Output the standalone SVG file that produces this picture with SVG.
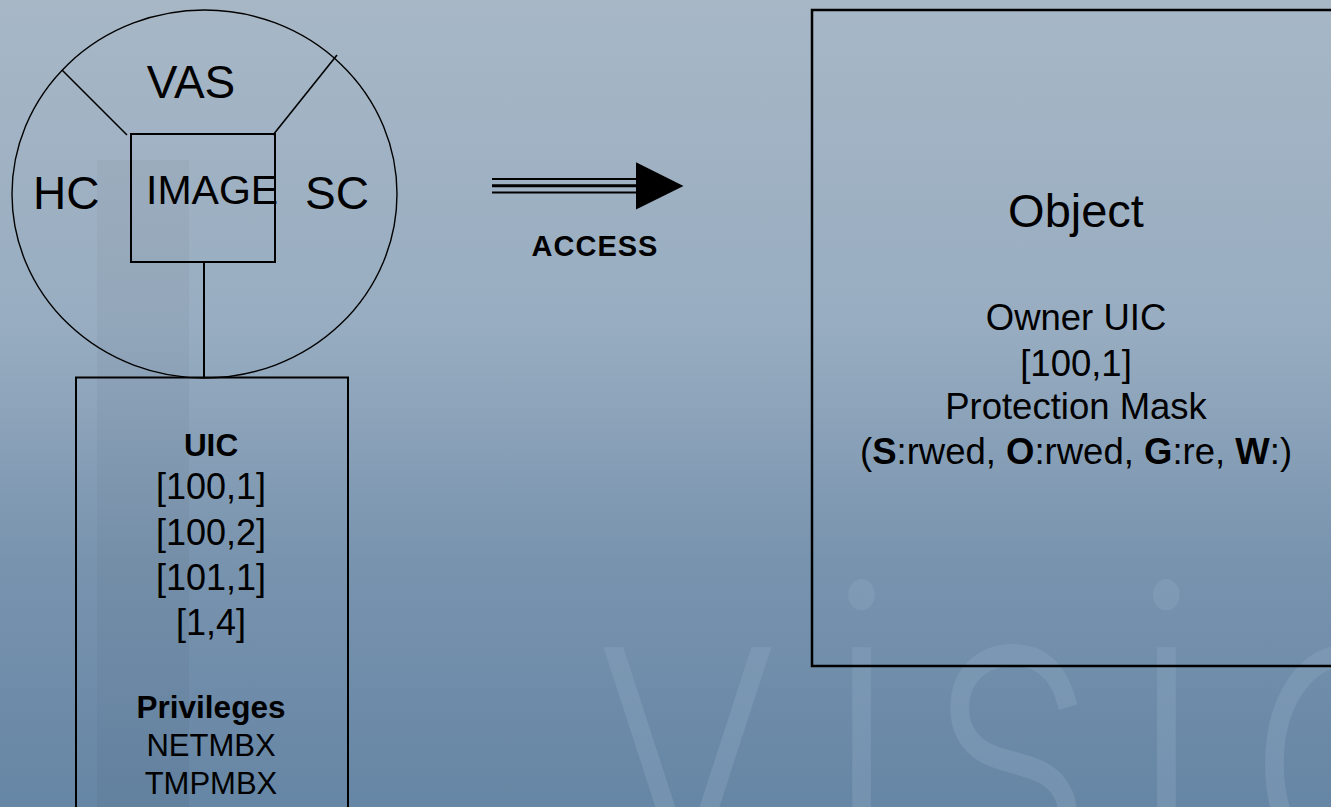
<svg xmlns="http://www.w3.org/2000/svg" width="1331" height="807" viewBox="0 0 1331 807">
  <defs>
    <linearGradient id="bg" x1="0" y1="0" x2="0" y2="1">
      <stop offset="0" stop-color="#a7b7c6"/>
      <stop offset="0.4" stop-color="#98adc1"/>
      <stop offset="0.7" stop-color="#7893ae"/>
      <stop offset="1" stop-color="#6686a5"/>
    </linearGradient>
  </defs>
  <style>
    .t { font-family: "Liberation Sans", Arial, Helvetica, sans-serif; fill: #000; }
    .c { text-anchor: middle; }
    .b { font-weight: bold; }
    .shape { fill: none; stroke: #000; }
    .wm { font-family: Inter, Lato, "Liberation Sans", sans-serif; font-weight: 100; font-size: 400px;
          fill: #89a5bf; stroke: #89a5bf; stroke-width: 13; stroke-linejoin: miter; opacity: 0.42; }
  </style>

  <!-- backdrop with faint logo watermark -->
  <rect x="0" y="0" width="1331" height="807" fill="url(#bg)"/>
  <rect x="97" y="160" width="92" height="647" fill="#000" fill-opacity="0.03"/>
  <text class="wm" transform="translate(600,872) scale(0.85,1)" x="0" y="0" dx="-6 53 33 42 54">visio</text>

  <!-- process: circle split into HC / VAS / SC around IMAGE -->
  <g id="process">
    <ellipse class="shape" cx="204.5" cy="194" rx="192.5" ry="184" stroke-width="1.4"/>
    <line class="shape" x1="62" y1="70" x2="127" y2="135" stroke-width="1.6"/>
    <line class="shape" x1="337" y1="55" x2="273" y2="135" stroke-width="1.6"/>
    <rect class="shape" x="131" y="134" width="144" height="128" stroke-width="2"/>
    <text class="t c" x="191" y="98" font-size="46">VAS</text>
    <text class="t" x="33" y="209" font-size="46">HC</text>
    <text class="t" x="305" y="209" font-size="46">SC</text>
    <text class="t" x="146" y="204" font-size="41">IMAGE</text>
  </g>

  <!-- rights list held by the process -->
  <g id="rights">
    <rect class="shape" x="76" y="377.5" width="272" height="440" stroke-width="2"/>
    <text class="t c b" x="211" y="456" font-size="31.5">UIC</text>
    <text class="t c" x="211" y="499" font-size="36">[100,1]</text>
    <text class="t c" x="211" y="545" font-size="36">[100,2]</text>
    <text class="t c" x="211" y="590" font-size="36">[101,1]</text>
    <text class="t c" x="211" y="635" font-size="36">[1,4]</text>
    <text class="t c b" x="211" y="718" font-size="31.5">Privileges</text>
    <text class="t c" x="211" y="756" font-size="31">NETMBX</text>
    <text class="t c" x="211" y="794" font-size="31">TMPMBX</text>
  </g>

  <!-- protected object -->
  <g id="object">
    <rect class="shape" x="812" y="10" width="540" height="656" stroke-width="2.5"/>
    <text class="t c" x="1076" y="226.5" font-size="47">Object</text>
    <text class="t c" x="1076" y="330" font-size="36.5">Owner UIC</text>
    <text class="t c" x="1076" y="376" font-size="36.5">[100,1]</text>
    <text class="t c" x="1076" y="419" font-size="36.5">Protection Mask</text>
    <text class="t c" x="1076" y="464" font-size="36.5">(<tspan class="b">S</tspan>:rwed, <tspan class="b">O</tspan>:rwed, <tspan class="b">G</tspan>:re, <tspan class="b">W</tspan>:)</text>
  </g>

  <!-- connectors -->
  <g id="connectors">
    <line class="shape" x1="204" y1="262" x2="204" y2="378" stroke-width="2"/>
    <g id="access-arrow">
      <line class="shape" x1="492" y1="179" x2="638" y2="179" stroke-width="2"/>
      <line class="shape" x1="492" y1="185.8" x2="638" y2="185.8" stroke-width="3"/>
      <line class="shape" x1="492" y1="192.4" x2="638" y2="192.4" stroke-width="2"/>
      <path d="M636,162.3 L683.5,186 L636,209.5 Z" fill="#000"/>
    </g>
    <text class="t c b" x="595" y="256" font-size="29" letter-spacing="1">ACCESS</text>
  </g>
</svg>
